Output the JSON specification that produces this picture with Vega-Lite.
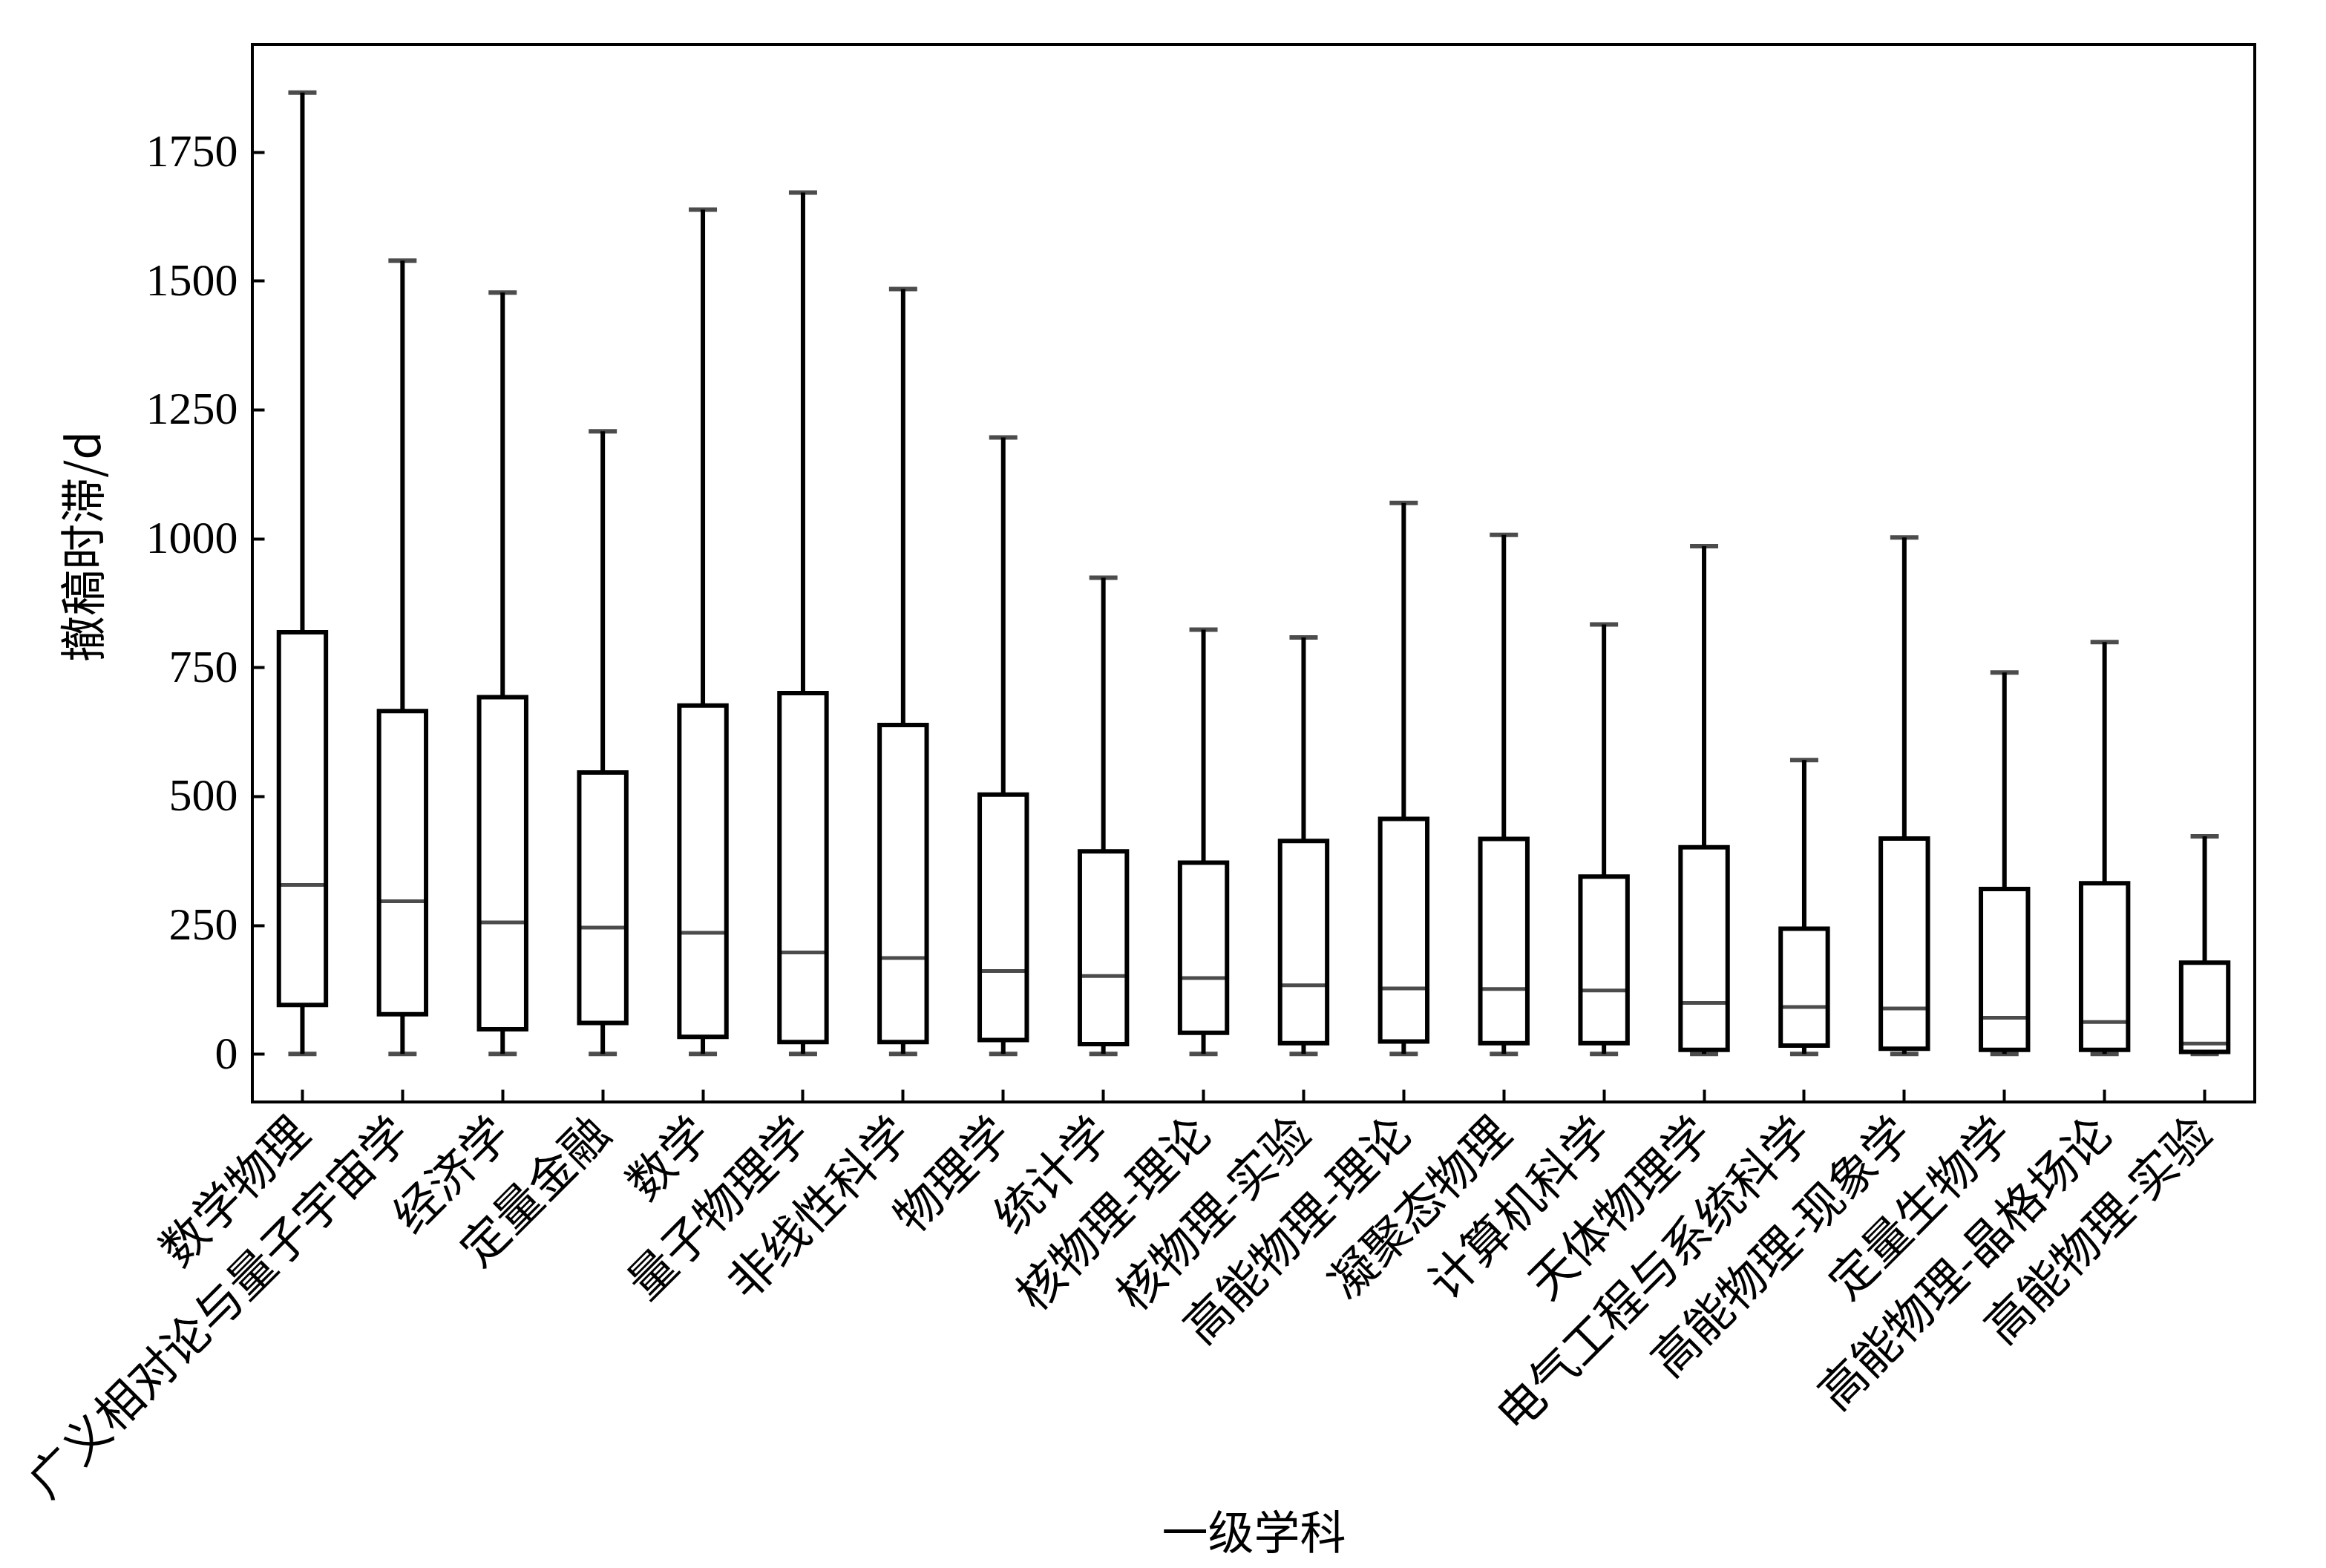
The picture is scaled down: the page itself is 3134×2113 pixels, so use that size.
{
  "$schema": "https://vega.github.io/schema/vega-lite/v6.json",
  "width": 2698,
  "height": 1425,
  "autosize": "none",
  "padding": {"left": 340, "top": 60, "right": 96, "bottom": 628},
  "background": "white",
  "config": {
    "view": {"stroke": "black", "strokeWidth": 4},
    "axis": {"grid": false, "domain": false, "tickColor": "black", "tickWidth": 4, "labelColor": "black", "titleColor": "black", "labelOverlap": false, "labelLimit": 2000}
  },
  "data": {"values": [
    {"cat": "数学物理", "min": 0, "q1": 95, "median": 328, "q3": 818, "max": 1865},
    {"cat": "广义相对论与量子宇宙学", "min": 0, "q1": 77, "median": 296, "q3": 665, "max": 1539},
    {"cat": "经济学", "min": 0, "q1": 48, "median": 255, "q3": 692, "max": 1477},
    {"cat": "定量金融", "min": 0, "q1": 60, "median": 245, "q3": 546, "max": 1208},
    {"cat": "数学", "min": 0, "q1": 33, "median": 235, "q3": 676, "max": 1638},
    {"cat": "量子物理学", "min": 0, "q1": 23, "median": 197, "q3": 700, "max": 1671},
    {"cat": "非线性科学", "min": 0, "q1": 23, "median": 186, "q3": 638, "max": 1484},
    {"cat": "物理学", "min": 0, "q1": 27, "median": 161, "q3": 503, "max": 1196},
    {"cat": "统计学", "min": 0, "q1": 19, "median": 151, "q3": 393, "max": 924},
    {"cat": "核物理-理论", "min": 0, "q1": 41, "median": 147, "q3": 371, "max": 823},
    {"cat": "核物理-实验", "min": 0, "q1": 21, "median": 133, "q3": 413, "max": 808},
    {"cat": "高能物理-理论", "min": 0, "q1": 24, "median": 127, "q3": 456, "max": 1069},
    {"cat": "凝聚态物理", "min": 0, "q1": 21, "median": 126, "q3": 417, "max": 1007},
    {"cat": "计算机科学", "min": 0, "q1": 21, "median": 123, "q3": 344, "max": 833},
    {"cat": "天体物理学", "min": 0, "q1": 8, "median": 99, "q3": 401, "max": 985},
    {"cat": "电气工程与系统科学", "min": 0, "q1": 16, "median": 91, "q3": 243, "max": 570},
    {"cat": "高能物理-现象学", "min": 0, "q1": 10, "median": 88, "q3": 418, "max": 1002},
    {"cat": "定量生物学", "min": 0, "q1": 8, "median": 70, "q3": 320, "max": 740},
    {"cat": "高能物理-晶格场论", "min": 0, "q1": 8, "median": 62, "q3": 331, "max": 799},
    {"cat": "高能物理-实验", "min": 0, "q1": 4, "median": 20, "q3": 177, "max": 422}
  ]},
  "encoding": {
    "x": {
      "field": "cat", "type": "nominal", "sort": null,
      "scale": {"paddingInner": 0, "paddingOuter": 0},
      "axis": {
        "title": "一级学科", "titleFont": "Noto Sans CJK SC", "titleFontSize": 62, "titleFontWeight": "normal",
        "titleX": 1349, "titleY": 583, "titleBaseline": "middle", "titleAlign": "center",
        "labelFont": "Noto Sans CJK SC", "labelFontSize": 63, "labelAngle": -45, "labelAlign": "right", "labelBaseline": "middle",
        "tickSize": -17, "labelPadding": 50
      }
    }
  },
  "layer": [
    {
      "mark": {"type": "rule", "color": "black", "strokeWidth": 6},
      "encoding": {
        "y": {"field": "min", "type": "quantitative", "scale": {"domain": [-93.25, 1958.25], "nice": false, "zero": false},
          "axis": {
            "title": "撤稿时滞/d", "titleFont": "Noto Sans CJK SC", "titleFontSize": 62, "titleFontWeight": "normal",
            "titleX": -225, "titleY": 676, "titleAngle": -90, "titleAlign": "center", "titleBaseline": "middle",
            "values": [0, 250, 500, 750, 1000, 1250, 1500, 1750], "format": "d",
            "labelFont": "Liberation Serif", "labelFontSize": 62, "tickSize": -16, "labelPadding": 36
          }},
        "y2": {"field": "max"}
      }
    },
    {
      "mark": {"type": "bar", "fill": "white", "stroke": "black", "strokeWidth": 6, "width": {"band": 0.47}},
      "encoding": {
        "y": {"field": "q1", "type": "quantitative"},
        "y2": {"field": "q3"}
      }
    },
    {
      "mark": {"type": "tick", "color": "black", "size": 60, "thickness": 5},
      "encoding": {"y": {"field": "median", "type": "quantitative"}}
    },
    {
      "mark": {"type": "tick", "color": "black", "size": 38, "thickness": 6},
      "encoding": {"y": {"field": "max", "type": "quantitative"}}
    },
    {
      "mark": {"type": "tick", "color": "black", "size": 38, "thickness": 6},
      "encoding": {"y": {"field": "min", "type": "quantitative"}}
    }
  ]
}
